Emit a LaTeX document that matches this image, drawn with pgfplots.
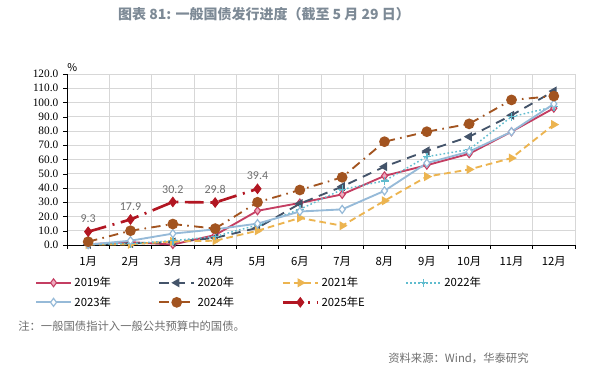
\documentclass[border=0pt]{standalone}
\usepackage{fontspec}
\setmainfont{Noto Sans CJK SC}
\newfontfamily\serifnum{Liberation Serif}
\newfontfamily\calib{Carlito}
\usepackage{pgfplots}
\pgfplotsset{compat=1.18}
\definecolor{c19}{RGB}{196,62,98}
\definecolor{c19f}{RGB}{240,170,190}
\definecolor{c20}{RGB}{68,84,106}
\definecolor{c21}{RGB}{236,180,80}
\definecolor{c22}{RGB}{96,188,206}
\definecolor{c23}{RGB}{150,186,216}
\definecolor{c24}{RGB}{162,84,32}
\definecolor{c25}{RGB}{178,22,34}
\definecolor{titlegray}{RGB}{125,138,150}
\definecolor{txtgray}{RGB}{110,110,110}
\definecolor{gridgray}{RGB}{215,215,215}
\begin{document}
\begin{tikzpicture}
\useasboundingbox (0pt,0pt) rectangle (461.25pt,277.5pt);
\node[font=\fontsize{10.5}{12}\selectfont\bfseries, text=titlegray] at (198pt,266.5pt) {图表 81: 一般国债发行进度（截至 5 月 29 日）};
\begin{axis}[
  at={(50.25pt,93.75pt)}, anchor=south west, scale only axis,
  width=381pt, height=128.25pt,
  xmin=0.5, xmax=12.5, ymin=0, ymax=120,
  ytick={0,10,...,120},
  yticklabel style={font=\serifnum\fontsize{8.5}{10}\selectfont, /pgf/number format/.cd, fixed, fixed zerofill, precision=1, assume math mode=true},
  xtick={1,...,12},
  xticklabels={1月,2月,3月,4月,5月,6月,7月,8月,9月,10月,11月,12月},
  xticklabel style={font=\fontsize{8.5}{10}\selectfont, yshift=-2pt},
  major x tick style={draw=none},
  minor xtick={0.5,1.5,...,12.5},
  xminorgrids=true, ymajorgrids=true,
  grid style={gridgray, line width=0.6pt},
  minor grid style={gridgray, line width=0.6pt},
  minor x tick style={black, line width=0.4pt},
  minor tick length=3pt,
  major tick length=3pt,
  tick align=outside,
  y tick style={black},
  axis x line*=bottom, axis y line*=left,
  axis line style={black, line width=0.5pt},
  clip=false,
  legend columns=4,
  legend cell align=left,
  legend style={at={(axis description cs:-0.063,-0.17)}, anchor=north west, draw=none, fill=none,
    font=\fontsize{8.5}{10}\selectfont, row sep=2pt, inner sep=0pt},
  legend image code/.code={\draw[mark repeat=2,mark phase=2] plot coordinates {(0pt,0pt)(13pt,0pt)(26pt,0pt)};},
]
\node[anchor=south west, font=\fontsize{8}{9}\selectfont, inner sep=0pt] at (axis cs:0.5,121.5) {\%};
% 2019
\addplot[c19, line width=1.4pt, mark=diamond*, mark size=3pt, mark options={solid, fill=c19f, draw=c19, line width=0.8pt}]
 coordinates {(1,0.5)(2,2)(3,0.3)(4,7)(5,24)(6,29.5)(7,35.5)(8,48.5)(9,56)(10,64)(11,79.5)(12,96)};
\addlegendentry{\makebox[61pt][l]{2019年}}
% 2020
\addplot[c20, line width=1.4pt, dash pattern=on 7pt off 5pt, mark=triangle*, mark size=2.6pt, mark options={solid, rotate=90, fill=c20}]
 coordinates {(1,0.5)(2,1)(3,2)(4,5)(5,12)(6,29)(7,41)(8,55)(9,66)(10,76)(11,91)(12,108)};
\addlegendentry{\makebox[61pt][l]{2020年}}
% 2021
\addplot[c21, line width=1.4pt, dash pattern=on 5pt off 3pt, mark=triangle*, mark size=2.6pt, mark options={solid, rotate=-90, fill=c21}]
 coordinates {(1,0.3)(2,0.5)(3,2.5)(4,3)(5,10)(6,19)(7,13.5)(8,31)(9,48)(10,53)(11,61)(12,84.5)};
\addlegendentry{\makebox[61pt][l]{2021年}}
% 2022
\addplot[c22, line width=1.1pt, dash pattern=on 1.2pt off 1.8pt, mark=+, mark size=3pt, mark options={solid, line width=1pt}]
 coordinates {(1,0.5)(2,1)(3,3)(4,6)(5,14)(6,25)(7,39)(8,45)(9,62)(10,67)(11,90)(12,97)};
\addlegendentry{2022年}
% 2023
\addplot[c23, line width=1.4pt, mark=diamond*, mark size=3pt, mark options={solid, fill=white, draw=c23, line width=0.9pt}]
 coordinates {(1,0.3)(2,3)(3,8)(4,11)(5,15)(6,23.5)(7,25)(8,38)(9,57.5)(10,65.5)(11,79.5)(12,99)};
\addlegendentry{2023年}
% 2024
\addplot[c24, line width=1.4pt, dash pattern=on 7pt off 4pt on 1.2pt off 4pt, mark=*, mark size=3.3pt, mark options={solid, fill=c24, draw=c24}]
 coordinates {(1,2.3)(2,10)(3,14.7)(4,11.5)(5,30)(6,38.6)(7,47.5)(8,72.5)(9,79.5)(10,85)(11,101.8)(12,104.5)};
\addlegendentry{2024年}
% 2025E
\addplot[c25, line width=2pt, dash pattern=on 14pt off 5pt on 1.5pt off 5pt, mark=diamond*, mark size=3.6pt,
  mark options={solid, fill=c25, draw=c25, line width=0.6pt},
  nodes near coords, point meta=explicit symbolic,
  every node near coord/.append style={font=\calib\fontsize{9}{10}\selectfont, text=txtgray, anchor=south, yshift=3pt}]
 coordinates {(1,9.3)[9.3](2,17.9)[17.9](3,30.2)[30.2](4,29.8)[29.8](5,39.4)[39.4]};
\addlegendentry{2025年E}
\end{axis}
\node[anchor=west, font=\fontsize{8.5}{10}\selectfont, text=txtgray, inner sep=0pt] at (13.5pt,33pt) {注：一般国债指计入一般公共预算中的国债。};
\node[anchor=west, font=\fontsize{8.5}{10}\selectfont, text=txtgray, inner sep=0pt] at (291pt,9pt) {资料来源：Wind，华泰研究};
\end{tikzpicture}
\end{document}
